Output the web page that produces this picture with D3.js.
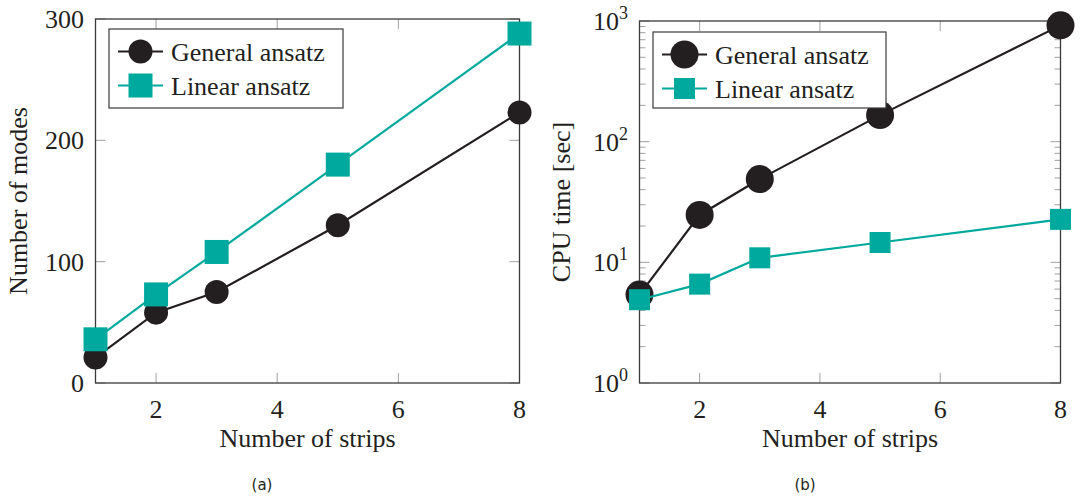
<!DOCTYPE html>
<html>
<head>
<meta charset="utf-8">
<script src="https://cdn.jsdelivr.net/npm/d3@7"></script>
<style>
  html, body { margin: 0; padding: 0; background: #fff; }
  svg { display: block; }
</style>
</head>
<body>
<svg id="fig" width="1083" height="496"></svg>
<script>
// Number of strips (shared x values)
const strips = [1, 2, 3, 5, 8];

// (a) Number of modes
const modesGeneral = [21, 58, 75, 130, 223];
const modesLinear  = [36, 73, 108, 180, 288];

// (b) CPU time [sec]
const cpuGeneral = [5.4, 24.7, 49, 166, 920];
const cpuLinear  = [4.9, 6.6, 10.9, 14.6, 22.7];

const seriesNames = ["General ansatz", "Linear ansatz"];
const xTicks = [2, 4, 6, 8];
const modesTicks = [0, 100, 200, 300];
const cpuExponents = [0, 1, 2, 3];

const BLACK = "#231f20";
const TEAL = "#00a99d";
const TICKGRAY = "#a0a0a0";
const SERIF = "'Liberation Serif', 'Times New Roman', Times, 'DejaVu Serif', serif";
const SANS = "'DejaVu Sans', 'Noto Sans', sans-serif";

const svg = d3.select("#fig");

function serifText(sel, size) {
  return sel.append("text")
    .attr("font-family", SERIF)
    .style("font-family", SERIF)
    .attr("font-size", size)
    .attr("fill", BLACK);
}

function panel(opts) {
  const g = svg.append("g");
  const x = d3.scaleLinear().domain([1, 8]).range([opts.left, opts.right]);
  const y = opts.y;
  const top = opts.top, bottom = opts.bottom;

  // inside tick marks on all four sides
  const ticks = g.append("g").attr("stroke", TICKGRAY).attr("stroke-width", 1);
  xTicks.forEach(t => {
    ticks.append("line").attr("x1", x(t)).attr("x2", x(t)).attr("y1", bottom).attr("y2", bottom - 10);
    ticks.append("line").attr("x1", x(t)).attr("x2", x(t)).attr("y1", top).attr("y2", top + 10);
  });
  opts.yMajor.forEach(v => {
    ticks.append("line").attr("x1", opts.left).attr("x2", opts.left + 10).attr("y1", y(v)).attr("y2", y(v));
    ticks.append("line").attr("x1", opts.right).attr("x2", opts.right - 10).attr("y1", y(v)).attr("y2", y(v));
  });
  (opts.yMinor || []).forEach(v => {
    ticks.append("line").attr("x1", opts.left).attr("x2", opts.left + 6).attr("y1", y(v)).attr("y2", y(v));
    ticks.append("line").attr("x1", opts.right).attr("x2", opts.right - 6).attr("y1", y(v)).attr("y2", y(v));
  });

  // frame
  g.append("rect")
    .attr("x", opts.left).attr("y", top)
    .attr("width", opts.right - opts.left).attr("height", bottom - top)
    .attr("fill", "none").attr("stroke", "#3a3a3a").attr("stroke-width", 1.3);

  // x tick labels
  xTicks.forEach(t => {
    serifText(g, 26)
      .attr("x", x(t)).attr("y", bottom + 35)
      .attr("text-anchor", "middle")
      .text(t);
  });

  // y tick labels
  opts.yLabels(g, y);

  // axis titles
  serifText(g, 26)
    .attr("x", (opts.left + opts.right) / 2).attr("y", bottom + 64)
    .attr("text-anchor", "middle")
    .text("Number of strips");
  serifText(g, 26)
    .attr("transform", `translate(${opts.yTitleX},${(top + bottom) / 2}) rotate(-90)`)
    .attr("text-anchor", "middle")
    .text(opts.yTitle);

  // caption
  g.append("text")
    .attr("font-family", SANS).style("font-family", SANS)
    .attr("fill", BLACK)
    .attr("x", opts.capX).attr("y", 490)
    .attr("text-anchor", "middle").attr("font-size", 15)
    .text(opts.caption);

  // series
  const line = d3.line().x((d, i) => x(strips[i])).y(d => y(d));
  const mk = opts.marker;
  g.append("path").datum(opts.general).attr("d", line)
    .attr("fill", "none").attr("stroke", BLACK).attr("stroke-width", 2.2);
  g.append("g").selectAll("circle").data(opts.general).join("circle")
    .attr("cx", (d, i) => x(strips[i])).attr("cy", d => y(d))
    .attr("r", mk.r).attr("fill", BLACK);
  g.append("path").datum(opts.linear).attr("d", line)
    .attr("fill", "none").attr("stroke", TEAL).attr("stroke-width", 2.2);
  g.append("g").selectAll("rect").data(opts.linear).join("rect")
    .attr("x", (d, i) => x(strips[i]) - mk.s / 2).attr("y", d => y(d) - mk.s / 2)
    .attr("width", mk.s).attr("height", mk.s).attr("fill", TEAL);

  // legend
  const L = opts.legend;
  const lg = g.append("g");
  lg.append("rect").attr("x", L.x).attr("y", L.y).attr("width", L.w).attr("height", L.h)
    .attr("fill", "#fff").attr("stroke", "#3a3a3a").attr("stroke-width", 1.2);
  const rows = [
    { name: seriesNames[0], color: BLACK, shape: "circle", cy: L.y + 22.5 },
    { name: seriesNames[1], color: TEAL, shape: "square", cy: L.y + 56.5 }
  ];
  rows.forEach(r => {
    lg.append("line").attr("x1", L.x + 9).attr("x2", L.x + 54)
      .attr("y1", r.cy).attr("y2", r.cy)
      .attr("stroke", r.color).attr("stroke-width", 2.2);
    const cx = L.x + 31.5;
    if (r.shape === "circle") {
      lg.append("circle").attr("cx", cx).attr("cy", r.cy).attr("r", mk.r).attr("fill", r.color);
    } else {
      lg.append("rect").attr("x", cx - mk.s / 2).attr("y", r.cy - mk.s / 2)
        .attr("width", mk.s).attr("height", mk.s).attr("fill", r.color);
    }
    serifText(lg, 26)
      .attr("x", L.x + 62).attr("y", r.cy + 9)
      .text(r.name);
  });
}

// (a) linear axis
panel({
  left: 95.5, right: 519.5, top: 19, bottom: 383,
  y: d3.scaleLinear().domain([0, 300]).range([383, 19]),
  yMajor: modesTicks,
  yLabels: (g, y) => {
    modesTicks.forEach(v => {
      serifText(g, 26)
        .attr("x", 84).attr("y", y(v) + 9)
        .attr("text-anchor", "end")
        .text(v);
    });
  },
  yTitle: "Number of modes", yTitleX: 27,
  caption: "(a)", capX: 262,
  general: modesGeneral, linear: modesLinear,
  marker: { r: 12, s: 24 },
  legend: { x: 109, y: 29, w: 234, h: 79 }
});

// (b) logarithmic axis
const yLog = d3.scaleLog().domain([1, 1000]).range([383, 21]);
const minor = [];
[1, 10, 100].forEach(b => { for (let k = 2; k <= 9; k++) minor.push(b * k); });
panel({
  left: 639.5, right: 1060.5, top: 21, bottom: 383,
  y: yLog,
  yMajor: cpuExponents.map(e => Math.pow(10, e)),
  yMinor: minor,
  yLabels: (g, y) => {
    cpuExponents.forEach(e => {
      const t = serifText(g, 26)
        .attr("x", 628).attr("y", y(Math.pow(10, e)) + 9)
        .attr("text-anchor", "end");
      t.append("tspan").text("10");
      t.append("tspan").attr("dy", -11).attr("font-size", 18).text(e);
    });
  },
  yTitle: "CPU time [sec]", yTitleX: 570,
  caption: "(b)", capX: 805,
  general: cpuGeneral, linear: cpuLinear,
  marker: { r: 14, s: 21 },
  legend: { x: 653, y: 32, w: 233, h: 76 }
});
</script>
</body>
</html>
